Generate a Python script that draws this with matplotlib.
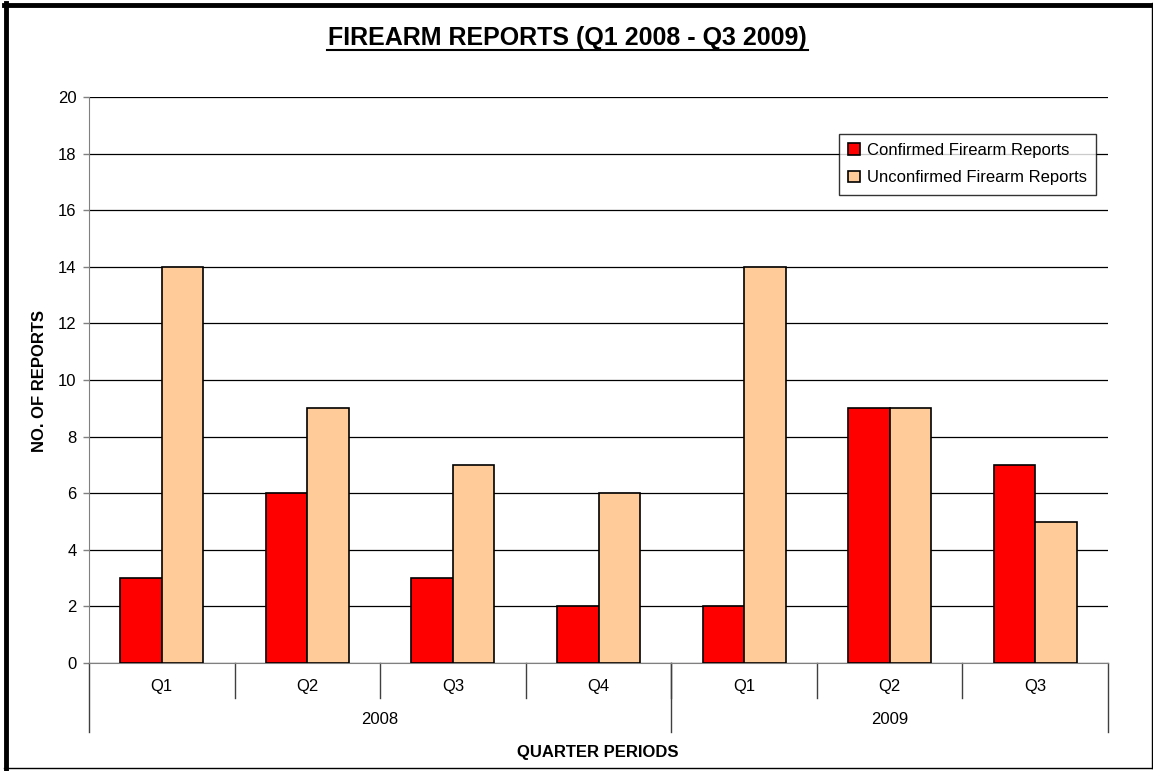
import matplotlib
matplotlib.use("Agg")
import matplotlib.pyplot as plt
from matplotlib.lines import Line2D
import numpy as np

plt.rcParams['font.family'] = ['Liberation Sans', 'DejaVu Sans']

quarters = ["Q1", "Q2", "Q3", "Q4", "Q1", "Q2", "Q3"]
years = ["2008", "2009"]
year_counts = [4, 3]
confirmed = [3, 6, 3, 2, 2, 9, 7]
unconfirmed = [14, 9, 7, 6, 14, 9, 5]
series_names = ["Confirmed Firearm Reports", "Unconfirmed Firearm Reports"]
colors = ["#FF0000", "#FFCC99"]

W, H = 1153, 771
fig = plt.figure(figsize=(W / 100, H / 100), dpi=100)
ax = fig.add_axes([89 / W, 1 - 663 / H, (1108 - 89) / W, (663 - 97) / H])

n = len(quarters)
x = np.arange(n)
bw = 0.285
ax.bar(x - bw / 2, confirmed, bw, color=colors[0], edgecolor="black", linewidth=1.2, label=series_names[0], zorder=3)
ax.bar(x + bw / 2, unconfirmed, bw, color=colors[1], edgecolor="black", linewidth=1.2, label=series_names[1], zorder=3)

ax.set_xlim(-0.5, n - 0.5)
ax.set_ylim(0, 20)
ax.set_yticks(range(0, 21, 2))
ax.tick_params(axis='y', labelsize=12, length=4, width=1, color="#808080", pad=5)
ax.set_xticks([])
for s in ["top", "right"]:
    ax.spines[s].set_visible(False)
ax.spines["left"].set_color("#808080")
ax.spines["bottom"].set_color("#808080")
ax.yaxis.grid(True, color="black", linewidth=0.9, zorder=0)
ax.set_axisbelow(True)

# multi-level category axis
axh = 663 - 97
tr = ax.get_xaxis_transform()
for i in range(1, n):
    ax.add_line(Line2D([i - 0.5, i - 0.5], [0, -35 / axh], transform=tr, color="#404040", lw=1, clip_on=False))
bounds = np.concatenate([[0], np.cumsum(year_counts)]) - 0.5
for b in bounds:
    ax.add_line(Line2D([b, b], [0, -69 / axh], transform=tr, color="#404040", lw=1, clip_on=False))
for i, q in enumerate(quarters):
    ax.text(i, -24 / axh, q, transform=tr, ha="center", va="center", fontsize=12)
for k, yname in enumerate(years):
    c = (bounds[k] + bounds[k + 1]) / 2
    ax.text(c, -57 / axh, yname, transform=tr, ha="center", va="center", fontsize=12)

fig.text(40 / W, 1 - 381 / H, "NO. OF REPORTS", rotation=90, ha="center", va="center",
         fontsize=12, fontweight="bold")
fig.text(598 / W, 1 - 752 / H, "QUARTER PERIODS", ha="center", va="center", fontsize=12, fontweight="bold")
fig.text(567 / W, 1 - 38 / H, "FIREARM REPORTS (Q1 2008 - Q3 2009)", ha="center", va="center",
         fontsize=18, fontweight="bold")
# underline for title
fig.add_artist(Line2D([327 / W, 808 / W], [1 - 50 / H, 1 - 50 / H], color="black", lw=1.5))

leg = ax.legend(loc="upper right", bbox_to_anchor=(0.988, 0.935), fontsize=12, frameon=True,
                fancybox=False, edgecolor="black", handlelength=0.7, handleheight=0.7,
                handletextpad=0.4, borderpad=0.55, labelspacing=0.75, borderaxespad=0)
leg.get_frame().set_linewidth(1)
leg.set_zorder(5)

# outer frame
fig.add_artist(Line2D([5.5 / W, 5.5 / W], [0, 1 - 3 / H], color="black", lw=3.5))
fig.add_artist(Line2D([4 / W, 1], [1 - 4.5 / H, 1 - 4.5 / H], color="black", lw=3.5))
fig.add_artist(Line2D([4 / W, 1], [1 - 767.5 / H, 1 - 767.5 / H], color="black", lw=1))
fig.add_artist(Line2D([1151.5 / W, 1151.5 / W], [1 - 768 / H, 1 - 3 / H], color="black", lw=1))

fig.savefig("out.png", dpi=100)
